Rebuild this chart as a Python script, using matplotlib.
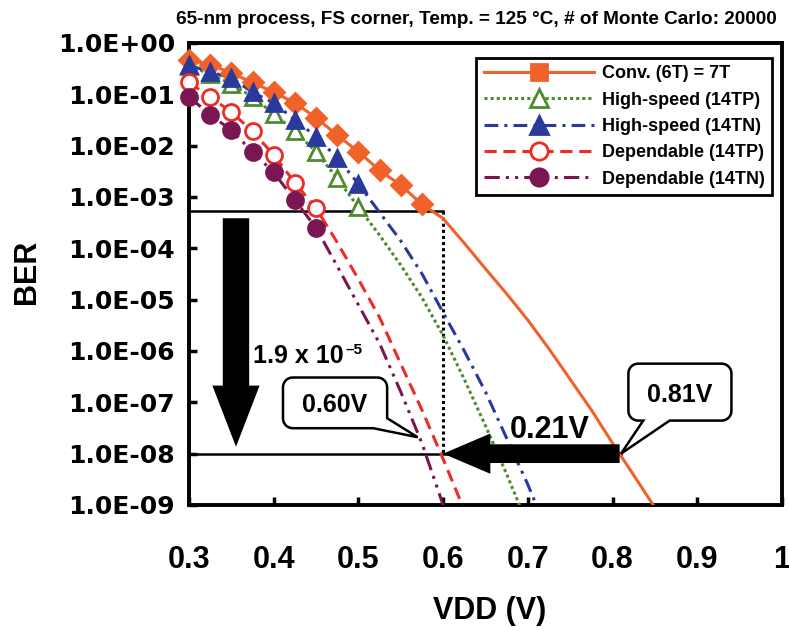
import numpy as np
import matplotlib
matplotlib.use('Agg')
import matplotlib.pyplot as plt
import matplotlib.transforms as mtransforms
from matplotlib.lines import Line2D
from matplotlib.path import Path
from matplotlib.patches import PathPatch

plt.rcParams['font.family'] = 'Liberation Sans'
plt.rcParams['font.weight'] = 'bold'

# BER vs VDD, 65-nm FS corner, 125 C
vdd_conv = [0.3, 0.325, 0.35, 0.375, 0.4, 0.425, 0.45, 0.475, 0.5, 0.525, 0.55, 0.575,
            0.6, 0.625, 0.65, 0.675, 0.7, 0.725, 0.75, 0.775, 0.8, 0.825, 0.85]
ber_conv = [4.7e-1, 3.8e-1, 2.6e-1, 1.7e-1, 1.1e-1, 6.8e-2, 3.5e-2, 1.6e-2, 7.6e-3, 3.3e-3, 1.7e-3, 7.2e-4,
            3.8e-4, 1.26e-4, 4.0e-5, 1.3e-5, 4.0e-6, 1.1e-6, 2.8e-7, 7.1e-8, 1.6e-8, 3.8e-9, 8.9e-10]
nmark_conv = 12

vdd_hs_tp = [0.3, 0.325, 0.35, 0.375, 0.4, 0.425, 0.45, 0.475, 0.5,
             0.525, 0.55, 0.575, 0.6, 0.625, 0.65, 0.675, 0.7]
ber_hs_tp = [3.5e-1, 2.5e-1, 1.6e-1, 8.9e-2, 4.2e-2, 1.9e-2, 7.6e-3, 2.3e-3, 6.3e-4,
             1.8e-4, 4.7e-5, 1.1e-5, 2.0e-6, 2.8e-7, 3.5e-8, 4.0e-9, 4.0e-10]
nmark_hs = 9

vdd_hs_tn = [0.3, 0.325, 0.35, 0.375, 0.4, 0.425, 0.45, 0.475, 0.5,
             0.525, 0.55, 0.575, 0.6, 0.625, 0.65, 0.675, 0.7, 0.72]
ber_hs_tn = [3.7e-1, 2.7e-1, 2.1e-1, 1.1e-1, 6.8e-2, 3.2e-2, 1.5e-2, 5.8e-3, 1.8e-3,
             5.0e-4, 1.4e-4, 3.2e-5, 5.6e-6, 1.0e-6, 1.6e-7, 2.0e-8, 2.5e-9, 4.0e-10]

vdd_dp_tp = [0.3, 0.325, 0.35, 0.375, 0.4, 0.425, 0.45,
             0.475, 0.5, 0.525, 0.55, 0.575, 0.6, 0.625]
ber_dp_tp = [1.7e-1, 8.9e-2, 4.5e-2, 1.9e-2, 6.6e-3, 1.9e-3, 6.0e-4,
             1.3e-4, 2.5e-5, 4.5e-6, 5.6e-7, 7.1e-8, 7.9e-9, 7.9e-10]
nmark_dp = 7

vdd_dp_tn = [0.3, 0.325, 0.35, 0.375, 0.4, 0.425, 0.45,
             0.475, 0.5, 0.525, 0.55, 0.575, 0.6, 0.61]
ber_dp_tn = [8.9e-2, 4.0e-2, 2.0e-2, 7.6e-3, 3.0e-3, 8.7e-4, 2.5e-4,
             4.5e-5, 7.9e-6, 1.4e-6, 1.6e-7, 1.6e-8, 1.0e-9, 3.2e-10]

labels = ['Conv. (6T) = 7T', 'High-speed (14TP)', 'High-speed (14TN)',
          'Dependable (14TP)', 'Dependable (14TN)']

xticks = [0.3, 0.4, 0.5, 0.6, 0.7, 0.8, 0.9, 1.0]
xticklabels = ['0.3', '0.4', '0.5', '0.6', '0.7', '0.8', '0.9', '1']
yticks = [1e0, 1e-1, 1e-2, 1e-3, 1e-4, 1e-5, 1e-6, 1e-7, 1e-8, 1e-9]
yticklabels = ['1.0E+00', '1.0E-01', '1.0E-02', '1.0E-03', '1.0E-04',
               '1.0E-05', '1.0E-06', '1.0E-07', '1.0E-08', '1.0E-09']

# operating points
ber_ref = 1e-8
ratio = 1.9e-5
ber_top = ber_ref / ratio
vdd_conv_op = 0.81
vdd_dep_op = 0.60
x_down = 0.3555

c_conv = '#F0622A'
c_hs_tp = '#4E8A2E'
c_hs_tn = '#2A3A9C'
c_dp_tp = '#EE2B25'
c_dp_tn = '#7A1652'

series = [
    (vdd_conv, ber_conv, nmark_conv, c_conv, '-', 'D', c_conv, 10.5),
    (vdd_hs_tp, ber_hs_tp, nmark_hs, c_hs_tp, (0, (1, 1)), '^', 'white', 12),
    (vdd_hs_tn, ber_hs_tn, nmark_hs, c_hs_tn, (0, (4.5, 2, 1, 2)), '^', c_hs_tn, 12),
    (vdd_dp_tp, ber_dp_tp, nmark_dp, c_dp_tp, (0, (4, 2.2)), 'o', 'white', 11.5),
    (vdd_dp_tn, ber_dp_tn, nmark_dp, c_dp_tn, (0, (5, 2, 1, 2, 1, 2)), 'o', c_dp_tn, 11.5),
]

fig = plt.figure(figsize=(7.89, 6.31), dpi=100)
ax = fig.add_axes([0.2395, 0.1997, 0.7516, 0.7322])
ax.set_yscale('log')

handles = []
for vdd, ber, n, col, ls, mk, mfc, ms in series:
    ax.plot(vdd, ber, color=col, lw=2.2, ls=ls, zorder=3)
    ax.plot(vdd[:n], ber[:n], ls='none', marker=mk, ms=ms, mfc=mfc, mec=col,
            mew=2, zorder=4, clip_on=False)
    hmk = 's' if mk == 'D' else mk
    hms = 11 if mk == 'D' else ms + 1
    handles.append(Line2D([], [], color=col, lw=2.2, ls=ls, marker=hmk, ms=hms,
                          mfc=mfc, mec=col, mew=2))

# guide lines
ax.plot([0.3, vdd_dep_op], [ber_top, ber_top], color='black', lw=1.8, zorder=2)
ax.plot([0.3, vdd_conv_op], [ber_ref, ber_ref], color='black', lw=1.8, zorder=2)
ax.plot([vdd_dep_op, vdd_dep_op], [ber_top, ber_ref], color='black', lw=2.2,
        ls=(0, (1, 1)), zorder=2)

# arrows
ax.annotate('', xy=(x_down, ber_ref), xytext=(x_down, ber_top),
            arrowprops=dict(arrowstyle='simple,head_length=4.4,head_width=3.4,tail_width=1.9',
                            mutation_scale=10, fc='black', ec='none', shrinkA=5, shrinkB=5),
            zorder=5)
ax.annotate('', xy=(vdd_dep_op, ber_ref), xytext=(vdd_conv_op, ber_ref),
            arrowprops=dict(arrowstyle='simple,head_length=3.4,head_width=2.9,tail_width=1.35',
                            mutation_scale=10, fc='black', ec='none', shrinkA=1, shrinkB=0),
            zorder=5)

t = ax.text(0.3756, 10 ** -6.24, '1.9 x 10', fontsize=18, va='baseline', zorder=6)
ax.annotate('\u20135', xy=(1, 1), xycoords=t, xytext=(1, 1), textcoords='offset points',
            fontsize=11, va='top', ha='left', zorder=6)
ax.text(0.726, 10 ** -7.70, '0.21V', fontsize=22, ha='center', va='baseline', zorder=6)


def bubble(ax, xy, text, box, tail, fs, cut_corner=False, r=7):
    # speech-bubble callout, outline given in points relative to the tip
    x0, y0, x1, y1 = box
    xa, xb = tail

    def arc(cx, cy, a0, a1):
        a = np.radians(np.linspace(a0, a1, 8))
        return list(zip(cx + r * np.cos(a), cy + r * np.sin(a)))

    pts = arc(x0 + r, y0 + r, 180, 270)
    if cut_corner:
        pts += [(xa, y0), (0, 0), (x1, xb)]
    else:
        pts += [(xa, y0), (0, 0), (xb, y0)]
        pts += arc(x1 - r, y0 + r, 270, 360)
    pts += arc(x1 - r, y1 - r, 0, 90)
    pts += arc(x0 + r, y1 - r, 90, 180)
    pts.append(pts[0])
    trans = (mtransforms.Affine2D().scale(ax.figure.dpi / 72.0)
             + mtransforms.ScaledTranslation(xy[0], xy[1], ax.transData))
    patch = PathPatch(Path(pts, closed=True), transform=trans, fc='white',
                      ec='black', lw=1.8, zorder=7, clip_on=False)
    ax.add_artist(patch)
    ax.annotate(text, xy=xy, xytext=((x0 + x1) / 2, (y0 + y1) / 2),
                textcoords='offset points', ha='center', va='center_baseline',
                fontsize=fs, zorder=8)


bubble(ax, (0.57, 10 ** -7.68), '0.60V', (-97, 6.5, -22, 43), (-32, 13.7), 18,
       cut_corner=True)
bubble(ax, (vdd_conv_op, ber_ref), '0.81V', (5.3, 23.8, 79.5, 64.8), (16, 35), 18)

ax.set_xlim(0.3, 1.0)
ax.set_ylim(1e-9, 1)
ax.set_xticks(xticks)
ax.set_xticklabels(xticklabels, fontsize=22)
ax.set_yticks(yticks)
ax.set_yticklabels(yticklabels, fontsize=18, fontfamily='DejaVu Sans', fontweight='bold')
ax.minorticks_off()
ax.tick_params(axis='x', direction='in', length=6, width=2.5, pad=29)
ax.tick_params(axis='y', direction='in', length=6, width=2.5, pad=10)
for sp in ax.spines.values():
    sp.set_linewidth(2.8)

leg = ax.legend(handles, labels, loc='upper right', bbox_to_anchor=(0.983, 0.9675),
                fontsize=13, handlelength=6.1, handletextpad=0.45, borderpad=0.4,
                labelspacing=0.52, borderaxespad=0, fancybox=False, framealpha=1,
                edgecolor='black')
leg.get_frame().set_linewidth(2)
leg.set_zorder(9)

fig.text(476 / 789, 1 - 24 / 631,
         '65-nm process, FS corner, Temp. = 125 \u00b0C, # of Monte Carlo: 20000',
         fontsize=13.7, ha='center', va='baseline')
fig.text(27 / 789, 1 - 272 / 631, 'BER', fontsize=22, rotation=90, ha='center', va='center')
fig.text(490 / 789, 1 - 611 / 631, 'VDD (V)', fontsize=22, ha='center', va='center')

fig.savefig('out.png', dpi=100)
